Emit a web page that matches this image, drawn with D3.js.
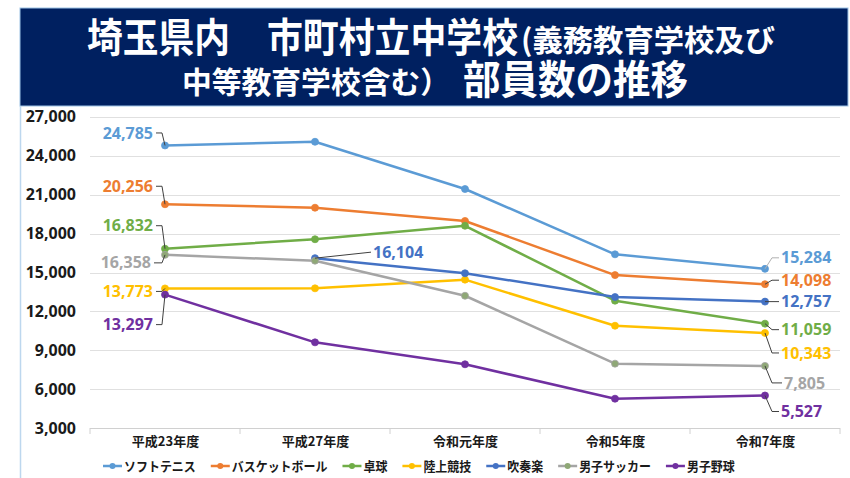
<!DOCTYPE html>
<html>
<head>
<meta charset="utf-8">
<script src="https://cdn.jsdelivr.net/npm/d3@7/dist/d3.min.js"></script>
<style>
  body { margin: 0; background: #fff; }
  svg { display: block; }
</style>
</head>
<body>
<div id="chart"></div>
<script>
var categories = ["平成23年度", "平成27年度", "令和元年度", "令和5年度", "令和7年度"];
var seriesNames = ["ソフトテニス", "バスケットボール", "卓球", "陸上競技", "吹奏楽", "男子サッカー", "男子野球"];

var softTennis  = [24785, 25070, 21430, 16400, 15284];
var basketball  = [20256, 19990, 18970, 14800, 14098];
var tableTennis = [16832, 17560, 18600, 12830, 11059];
var athletics   = [13773, 13780, 14450, 10900, 10343];
var brassBand   = [null, 16104, 14940, 13110, 12757];
var soccer      = [16358, 15910, 13210, 7980, 7805];
var baseball    = [13297, 9620, 7930, 5280, 5527];

var yTicks = [3000, 6000, 9000, 12000, 15000, 18000, 21000, 24000, 27000];

var allSeries = [softTennis, basketball, tableTennis, athletics, brassBand, soccer, baseball];
var colors = ["#5b9bd5", "#ed7d31", "#70ad47", "#ffc000", "#4472c4", "#a5a5a5", "#7030a0"];
var markerColors = ["#5b9bd5", "#ed7d31", "#70ad47", "#ffc000", "#4472c4", "#8fa876", "#7030a0"];

var width = 850, height = 478;
var cjk = "'Noto Sans CJK JP', 'Noto Sans', sans-serif";
var num = "'Noto Sans', 'Noto Sans CJK JP', sans-serif";

var svg = d3.select("#chart").append("svg")
    .attr("width", width)
    .attr("height", height);

// title banner
svg.append("rect")
    .attr("x", 20).attr("y", 8)
    .attr("width", 828).attr("height", 98)
    .attr("fill", "#002060")
    .attr("stroke", "#9dc3e6").attr("stroke-width", 1);

svg.append("line")
    .attr("x1", 20.5).attr("x2", 20.5)
    .attr("y1", 106).attr("y2", height)
    .attr("stroke", "#bdd7ee").attr("stroke-width", 1.5);

var titleParts = [
    { t: "埼玉県内", x: 87, y: 52, w: 143, s: 40 },
    { t: "市町村立中学校", x: 267, y: 52, w: 251, s: 40 },
    { t: "(義務教育学校及び", x: 521, y: 51, w: 254, s: 30 },
    { t: "中等教育学校含む）", x: 182, y: 93, w: 268, s: 30 },
    { t: "部員数の推移", x: 463, y: 94, w: 225, s: 40 }
];
svg.selectAll(".title")
    .data(titleParts)
    .enter().append("text")
    .attr("class", "title")
    .attr("x", function(d) { return d.x; })
    .attr("y", function(d) { return d.y; })
    .attr("textLength", function(d) { return d.w; })
    .attr("lengthAdjust", "spacingAndGlyphs")
    .style("font-family", cjk)
    .style("font-weight", "bold")
    .style("font-size", function(d) { return d.s + "px"; })
    .attr("fill", "#fff")
    .text(function(d) { return d.t; });

// scales
var x = d3.scalePoint()
    .domain(categories)
    .range([90, 840])
    .padding(0.5);

var y = d3.scaleLinear()
    .domain([3000, 27000])
    .range([428.3, 116.7]);

// grid
svg.append("g")
    .selectAll("line")
    .data(yTicks)
    .enter().append("line")
    .attr("x1", 90).attr("x2", 840)
    .attr("y1", function(d) { return Math.round(y(d)) + 0.5; })
    .attr("y2", function(d) { return Math.round(y(d)) + 0.5; })
    .attr("stroke", function(d) { return d === 3000 ? "#d0d0d0" : "#e0e0e0"; })
    .attr("stroke-width", 1.2);

// category boundary ticks
var bw = x.step();
svg.append("g")
    .selectAll("line")
    .data(d3.range(categories.length + 1))
    .enter().append("line")
    .attr("x1", function(i) { return 90 + i * bw; })
    .attr("x2", function(i) { return 90 + i * bw; })
    .attr("y1", Math.round(y(3000)))
    .attr("y2", Math.round(y(3000)) + 6)
    .attr("stroke", "#d0d0d0");

// y axis
var yAxis = d3.axisLeft(y)
    .tickValues(yTicks)
    .tickFormat(d3.format(","))
    .tickSize(0)
    .tickPadding(0);

svg.append("g")
    .attr("transform", "translate(76,0)")
    .call(yAxis)
    .call(function(g) { g.select(".domain").remove(); })
    .selectAll("text")
    .style("font-family", num)
    .style("font-weight", "bold")
    .style("font-size", "16px")
    .attr("fill", "#1a1a1a");

// x axis
var xAxis = d3.axisBottom(x).tickSize(0).tickPadding(0);
svg.append("g")
    .attr("transform", "translate(0,437)")
    .call(xAxis)
    .call(function(g) { g.select(".domain").remove(); })
    .selectAll("text")
    .style("font-family", cjk)
    .style("font-weight", "bold")
    .style("font-size", "13px")
    .attr("fill", "#1a1a1a");

// lines
var line = d3.line()
    .defined(function(d) { return d != null; })
    .x(function(d, i) { return x(categories[i]); })
    .y(function(d) { return y(d); });

var seriesG = svg.append("g").selectAll("g")
    .data(allSeries)
    .enter().append("g");

seriesG.append("path")
    .attr("d", function(d) { return line(d); })
    .attr("fill", "none")
    .attr("stroke", function(d, i) { return colors[i]; })
    .attr("stroke-width", 2.5)
    .attr("stroke-linejoin", "round");

seriesG.each(function(vals, si) {
    d3.select(this).selectAll("circle")
        .data(vals.map(function(v, i) { return { v: v, i: i }; }).filter(function(p) { return p.v != null; }))
        .enter().append("circle")
        .attr("cx", function(p) { return x(categories[p.i]); })
        .attr("cy", function(p) { return y(p.v); })
        .attr("r", 3.5)
        .attr("fill", markerColors[si])
        .attr("stroke", colors[si])
        .attr("stroke-width", 0.8);
});

// data labels: series, point, offset of label from point, side
var labelPlaces = [
    { s: 0, p: 0, dx: -12, dy: -12.5, side: "left" },
    { s: 1, p: 0, dx: -12, dy: -18, side: "left" },
    { s: 2, p: 0, dx: -12, dy: -23, side: "left" },
    { s: 5, p: 0, dx: -14, dy: 8, side: "left" },
    { s: 3, p: 0, dx: -12, dy: 3, side: "left" },
    { s: 6, p: 0, dx: -12, dy: 30, side: "left" },
    { s: 4, p: 1, dx: 58, dy: -6, side: "diag" },
    { s: 0, p: 4, dx: 16, dy: -11, side: "right", c: "#b0b0b0" },
    { s: 1, p: 4, dx: 16, dy: -4, side: "right" },
    { s: 4, p: 4, dx: 16, dy: 0, side: "straight" },
    { s: 2, p: 4, dx: 16, dy: 6, side: "right" },
    { s: 3, p: 4, dx: 16, dy: 20, side: "right" },
    { s: 5, p: 4, dx: 19, dy: 17, side: "right" },
    { s: 6, p: 4, dx: 16, dy: 16, side: "right" }
];

var fmt = d3.format(",");
var labelG = svg.append("g");
labelPlaces.forEach(function(lp) {
    var v = allSeries[lp.s][lp.p];
    var px = x(categories[lp.p]), py = y(v);
    var lx = px + lp.dx, ly = py + lp.dy;
    var path;
    if (lp.side === "left") {
        path = "M" + px + "," + py + "L" + (px - 3) + "," + ly + "L" + (lx + 3) + "," + ly;
    } else if (lp.side === "right") {
        path = "M" + px + "," + py + "L" + (px + 7) + "," + ly + "L" + (lx - 2) + "," + ly;
    } else {
        path = "M" + px + "," + py + "L" + (lx - 2) + "," + ly;
    }
    labelG.append("path")
        .attr("d", path)
        .attr("fill", "none")
        .attr("stroke", lp.c || "#404040")
        .attr("stroke-width", 1);
    labelG.append("text")
        .attr("x", lx)
        .attr("y", ly)
        .attr("dy", "0.35em")
        .attr("text-anchor", lp.side === "left" ? "end" : "start")
        .style("font-family", num)
        .style("font-weight", "bold")
        .style("font-size", "16px")
        .attr("fill", colors[lp.s])
        .text(fmt(v));
});

// legend
var legend = svg.append("g").attr("transform", "translate(103,466)");
var lx0 = 0;
seriesNames.forEach(function(name, i) {
    var item = legend.append("g").attr("transform", "translate(" + lx0 + ",0)");
    item.append("line")
        .attr("x1", 0).attr("x2", 19)
        .attr("y1", 0).attr("y2", 0)
        .attr("stroke", colors[i]).attr("stroke-width", 2.5);
    item.append("circle")
        .attr("cx", 9.5).attr("cy", 0).attr("r", 3)
        .attr("fill", markerColors[i]);
    var t = item.append("text")
        .attr("x", 21).attr("y", 0).attr("dy", "0.35em")
        .style("font-family", cjk)
        .style("font-weight", "bold")
        .style("font-size", "13px")
        .attr("fill", "#1a1a1a")
        .text(name);
    var w = t.node().getComputedTextLength() * 0.92;
    t.attr("textLength", w).attr("lengthAdjust", "spacingAndGlyphs");
    lx0 += 21 + w + 15;
});
</script>
</body>
</html>
